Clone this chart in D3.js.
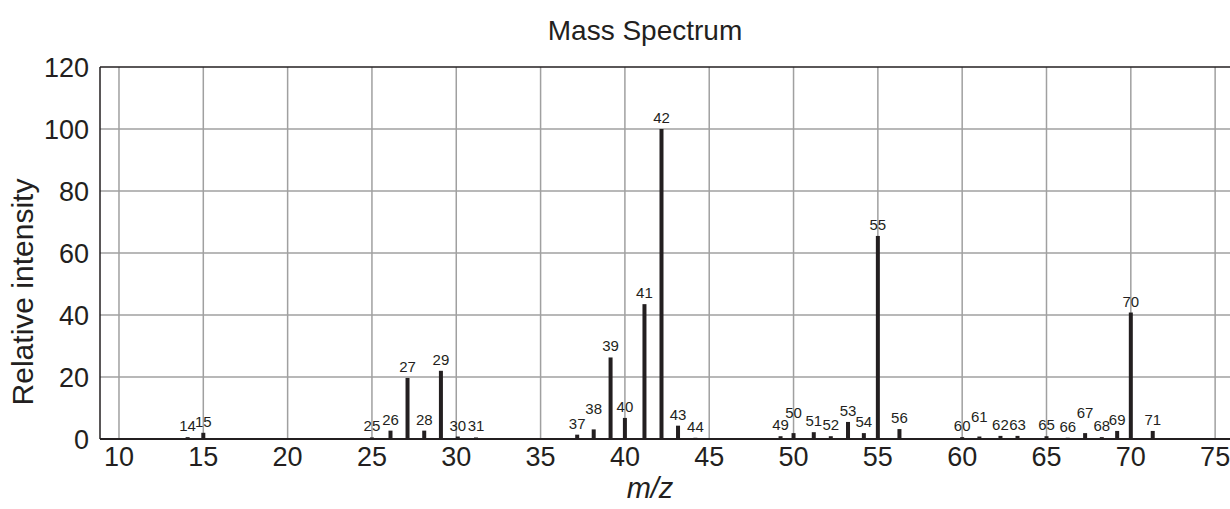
<!DOCTYPE html>
<html>
<head>
<meta charset="utf-8">
<script src="https://d3js.org/d3.v7.min.js"></script>
<style>
  body { margin: 0; background: #fff; }
  text { font-family: "Liberation Sans", Arial, sans-serif; fill: #231f20; }
</style>
</head>
<body>
<script>
// peak labels (nominal m/z) and their relative intensities
var mz = [14, 15, 25, 26, 27, 28, 29, 30, 31, 37, 38, 39, 40, 41, 42, 43, 44,
          49, 50, 51, 52, 53, 54, 55, 56, 60, 61, 62, 63, 65, 66, 67, 68, 69, 70, 71];
var intensity = [0.6, 2.0, 0.5, 2.7, 19.7, 2.7, 22.0, 0.8, 0.5, 1.4, 3.1, 26.3, 6.8, 43.5, 100, 4.3, 0.4,
                 0.9, 1.9, 2.2, 0.9, 5.5, 1.9, 65.5, 3.2, 0.6, 0.8, 1.0, 1.0, 0.9, 0.4, 1.9, 0.6, 2.6, 40.8, 2.6];
// where each peak actually sits on the m/z axis in the figure
var mzPos = [14.07, 15, 25, 26.1, 27.11, 28.1, 29.09, 30.09, 31.17, 37.17, 38.15, 39.15, 40, 41.16, 42.17, 43.15, 44.18,
             49.23, 50, 51.2, 52.21, 53.23, 54.17, 55, 56.28, 60, 61.02, 62.27, 63.28, 65, 66.26, 67.29, 68.28, 69.19, 70, 71.3];
var xTicks = [10, 15, 20, 25, 30, 35, 40, 45, 50, 55, 60, 65, 70, 75];
var yTicks = [0, 20, 40, 60, 80, 100, 120];
// labels that got pushed up to clear a neighbour
var liftedLabels = [38, 50, 61, 67];

var width = 1230, height = 509;
var mLeft = 100, mTop = 67, mBottom = 439, mRight = 1232;

var svg = d3.select("body").append("svg")
    .attr("width", width)
    .attr("height", height);

var x = d3.scaleLinear().domain([8.874, 76]).range([mLeft, mRight]);
var y = d3.scaleLinear().domain([0, 120]).range([mBottom, mTop]);

var data = mz.map(function(m, i){ return {mz: m, pos: mzPos[i], v: intensity[i]}; });

// grid
svg.append("g").selectAll("line")
    .data(xTicks).enter().append("line")
    .attr("x1", function(d){ return x(d); })
    .attr("x2", function(d){ return x(d); })
    .attr("y1", mTop).attr("y2", mBottom)
    .style("stroke", "#a0a0a0").style("stroke-width", 1.5);

svg.append("g").selectAll("line")
    .data(yTicks.filter(function(d){ return d > 0 && d < 120; })).enter().append("line")
    .attr("x1", mLeft).attr("x2", mRight)
    .attr("y1", function(d){ return y(d); })
    .attr("y2", function(d){ return y(d); })
    .style("stroke", "#a0a0a0").style("stroke-width", 1.5);

// frame
svg.append("line").attr("x1", mLeft).attr("x2", mRight).attr("y1", mTop).attr("y2", mTop)
    .style("stroke", "#231f20").style("stroke-width", 1.5);
svg.append("line").attr("x1", mLeft).attr("x2", mLeft).attr("y1", mTop).attr("y2", mBottom)
    .style("stroke", "#231f20").style("stroke-width", 1.5);

// bars
svg.append("g").selectAll("rect")
    .data(data).enter().append("rect")
    .attr("x", function(d){ return x(d.pos) - 2; })
    .attr("width", 4)
    .attr("y", function(d){ return y(d.v); })
    .attr("height", function(d){ return mBottom - y(d.v); })
    .style("fill", "#231f20");

svg.append("line").attr("x1", mLeft).attr("x2", mRight).attr("y1", mBottom).attr("y2", mBottom)
    .style("stroke", "#231f20").style("stroke-width", 2);

// peak labels
svg.append("g").selectAll("text")
    .data(data).enter().append("text")
    .attr("x", function(d){ return x(d.pos); })
    .attr("y", function(d){
        var yy = y(d.v) - 6;
        if (liftedLabels.indexOf(d.mz) >= 0) yy -= 9;
        return yy;
    })
    .attr("text-anchor", "middle")
    .style("font-size", "15px")
    .text(function(d){ return d.mz; });

// axes tick labels
svg.append("g").selectAll("text")
    .data(xTicks).enter().append("text")
    .attr("x", function(d){ return x(d); })
    .attr("y", 466)
    .attr("text-anchor", "middle")
    .style("font-size", "27px")
    .text(function(d){ return d; });

svg.append("g").selectAll("text")
    .data(yTicks).enter().append("text")
    .attr("x", 89)
    .attr("y", function(d){ return y(d) + 10; })
    .attr("text-anchor", "end")
    .style("font-size", "27px")
    .text(function(d){ return d; });

svg.append("text")
    .attr("x", 645).attr("y", 40)
    .attr("text-anchor", "middle")
    .style("font-size", "28px")
    .text("Mass Spectrum");

svg.append("text")
    .attr("x", 650).attr("y", 498)
    .attr("text-anchor", "middle")
    .style("font-size", "29px")
    .style("font-style", "italic")
    .text("m/z");

svg.append("text")
    .attr("transform", "translate(33,292) rotate(-90)")
    .attr("text-anchor", "middle")
    .style("font-size", "30px")
    .text("Relative intensity");
</script>
</body>
</html>
